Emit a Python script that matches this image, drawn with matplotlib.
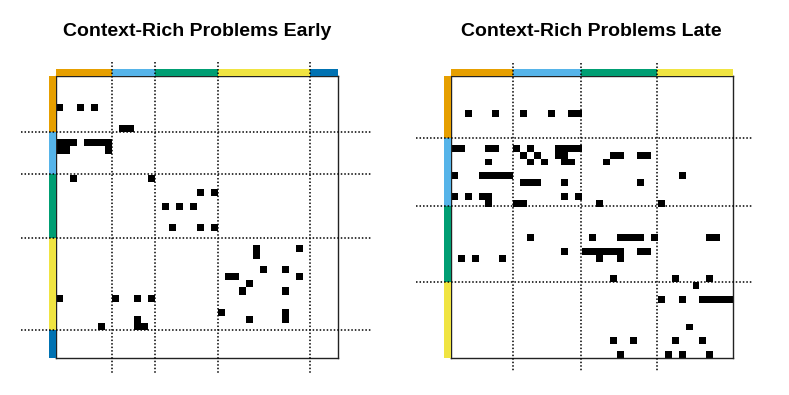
import numpy as np
import matplotlib
matplotlib.use('Agg')
import matplotlib.pyplot as plt
from matplotlib.colors import ListedColormap
from matplotlib.patches import Rectangle

plt.rcParams['font.family'] = ['Liberation Sans', 'DejaVu Sans']

# Colores de los grupos (Okabe-Ito)
group_colors = ['#E69F00', '#56B4E9', '#009E73', '#F0E442', '#0072B2']

# Panel izquierdo: tamaños de grupo y celdas ocupadas (fila, columna)
early_title = 'Context-Rich Problems Early'
early_groups = [8, 6, 9, 13, 4]
early_rows = [4, 4, 4, 7, 7,
              9, 9, 9, 9, 9, 9, 9, 10, 10, 10,
              14, 14, 16, 16, 18, 18, 18, 21, 21, 21,
              24, 24, 25, 27, 27, 28, 28, 28, 29, 30, 30,
              31, 31, 31, 31, 33, 33, 34, 34, 34, 35, 35, 35]
early_cols = [0, 3, 5, 9, 10,
              0, 1, 2, 4, 5, 6, 7, 0, 1, 7,
              2, 13, 20, 22, 15, 17, 19, 16, 20, 22,
              28, 34, 28, 29, 32, 24, 25, 34, 27, 26, 32,
              0, 8, 11, 13, 23, 32, 11, 27, 32, 6, 11, 12]

# Panel derecho
late_title = 'Context-Rich Problems Late'
late_groups = [9, 10, 11, 11]
late_rows = [5, 5, 5, 5, 5, 5,
             10, 10, 10, 10, 10, 10, 10, 10, 10, 10,
             11, 11, 11, 11, 11, 11, 11, 11,
             12, 12, 12, 12, 12, 12,
             14, 14, 14, 14, 14, 14, 14,
             15, 15, 15, 15, 15,
             17, 17, 17, 17, 17, 17,
             18, 18, 18, 18, 18,
             23, 23, 23, 23, 23, 23, 23, 23, 23,
             25, 25, 25, 25, 25, 25, 25, 25, 25,
             26, 26, 26, 26, 26,
             29, 29, 29, 30,
             32, 32, 32, 32, 32, 32, 32,
             36, 38, 38, 38, 38, 40, 40, 40, 40]
late_cols = [2, 6, 10, 14, 17, 18,
             0, 1, 5, 6, 9, 11, 15, 16, 17, 18,
             10, 12, 15, 16, 23, 24, 27, 28,
             5, 11, 13, 16, 17, 22,
             0, 4, 5, 6, 7, 8, 33,
             10, 11, 12, 16, 27,
             0, 2, 4, 5, 16, 18,
             5, 9, 10, 21, 30,
             11, 20, 24, 25, 26, 27, 29, 37, 38,
             16, 19, 20, 21, 22, 23, 24, 27, 28,
             1, 3, 7, 21, 24,
             23, 32, 37, 35,
             30, 33, 36, 37, 38, 39, 40,
             34, 23, 26, 32, 36, 24, 31, 33, 37]


def draw_panel(ax, title, groups, rows, cols, ext_right):
    n = sum(groups)
    mat = np.zeros((n, n))
    mat[rows, cols] = 1
    ax.imshow(mat, cmap=ListedColormap(['white', 'black']),
              interpolation='nearest', vmin=0, vmax=1)
    ax.set_xticks([])
    ax.set_yticks([])
    for s in ax.spines.values():
        s.set_linewidth(1.0)
        s.set_color('#222222')

    # barras de color arriba y a la izquierda
    t = 0.95
    start = 0
    for g, col in zip(groups, group_colors):
        ax.add_patch(Rectangle((start - 0.5, -0.5 - t), g, t, color=col,
                               clip_on=False, zorder=3, lw=0))
        ax.add_patch(Rectangle((-0.5 - t, start - 0.5), t, g, color=col,
                               clip_on=False, zorder=3, lw=0))
        start += g

    # líneas punteadas entre grupos
    bounds = np.cumsum(groups)[:-1] - 0.5
    for b in bounds:
        ax.plot([-5.5, n - 0.5 + ext_right], [b, b], color='black', lw=1.1,
                ls=(0, (1, 1.3)), clip_on=False, zorder=4)
        ax.plot([b, b], [-2.4, n + 1.6], color='black', lw=1.1,
                ls=(0, (1, 1.3)), clip_on=False, zorder=4)
    ax.set_xlim(-0.5, n - 0.5)
    ax.set_ylim(n - 0.5, -0.5)


fig = plt.figure(figsize=(7.89, 3.95), dpi=100)
ax1 = fig.add_axes([56 / 789, 37.3 / 395, 282 / 789, 282 / 395])
ax2 = fig.add_axes([450.7 / 789, 37.3 / 395, 282 / 789, 282 / 395])

draw_panel(ax1, early_title, early_groups, early_rows, early_cols, 4.8)
draw_panel(ax2, late_title, late_groups, late_rows, late_cols, 2.9)

fig.text(197 / 789, 1 - 31 / 395, early_title, ha='center', va='center',
         fontsize=14, fontweight='bold')
fig.text(591 / 789, 1 - 31 / 395, late_title, ha='center', va='center',
         fontsize=14, fontweight='bold')

fig.savefig('out.png', dpi=100)
